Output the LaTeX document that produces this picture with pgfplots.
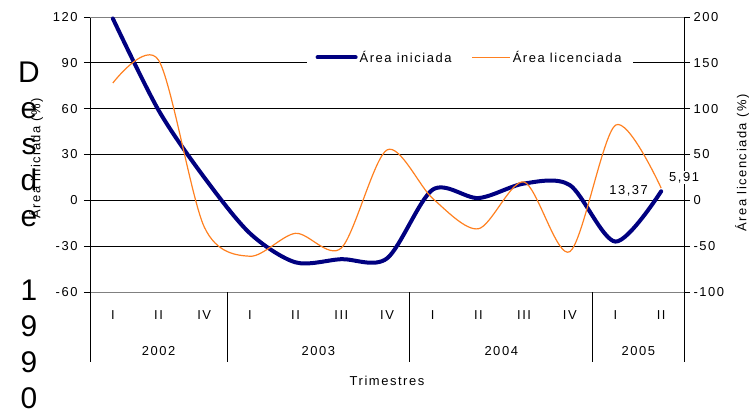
\documentclass[border=0pt]{standalone}
\usepackage{fontspec}
\setmainfont{Liberation Sans}
\newfontfamily\cf[LetterSpace=12]{Liberation Sans}
\usepackage{pgfplots}
\pgfplotsset{compat=1.18}
\definecolor{navyblue}{RGB}{0,0,128}
\definecolor{exorange}{RGB}{255,128,32}
\newcommand{\tf}{\cf\fontsize{13}{15}\selectfont}
\newcommand{\bigf}{\fontsize{30}{36}\selectfont}

\begin{document}
\begin{tikzpicture}[x=1bp,y=1bp]
\path[use as bounding box] (-90,-122) rectangle (663,292);
\foreach \ch/\b in {D/82,e/118,s/154,d/190,e/226,1/300,9/336,9/372,0/408}{
  \node[anchor=base, inner sep=0, font=\bigf] at (-61,292-\b) {\ch};
}
\begin{axis}[
  at={(0,0)}, anchor=south west,
  scale only axis, width=594bp, height=275bp,
  xmin=-0.5, xmax=12.5, ymin=-60, ymax=120,
  clip=false,
  axis x line*=bottom, axis y line*=left,
  x axis line style={-, draw=gray, line width=0.8bp},
  y axis line style={-, draw=black, line width=0.8bp},
  xtick={0,...,12},
  xticklabels={I,II,IV,I,II,III,IV,I,II,III,IV,I,II},
  xtick style={draw=none},
  xticklabel style={font=\tf, anchor=base, yshift=-21bp},
  ytick={-60,-30,...,120},
  yticklabels={-60,-30,0,30,60,90,120},
  yticklabel style={font=\tf, xshift=-3bp},
  tick align=outside, major tick length=6bp,
  ytick style={black, line width=0.8bp},
  ymajorgrids, major grid style={black, line width=0.8bp},
  legend style={at={(0.639,0.853)}, anchor=center, draw=none, fill=white, font=\tf,
    legend columns=2, /tikz/every even column/.append style={column sep=18bp},
    inner xsep=9bp, inner ysep=4bp},
  legend image code/.code={\draw[#1] (0bp,0bp) -- (38bp,0bp);},
]
\draw[gray, line width=0.8bp] (rel axis cs:0,1) -- (rel axis cs:1,1);
\pgfplotsinvokeforeach{-0.5,2.5,6.5,10.5,12.5}{
  \draw[black, line width=0.8bp] (axis cs:#1,-60) -- ++(0bp,-70bp);
}
\node[font=\tf, anchor=base, yshift=-63bp] at (axis cs:1,-60) {2002};
\node[font=\tf, anchor=base, yshift=-63bp] at (axis cs:4.5,-60) {2003};
\node[font=\tf, anchor=base, yshift=-63bp] at (axis cs:8.5,-60) {2004};
\node[font=\tf, anchor=base, yshift=-63bp] at (axis cs:11.5,-60) {2005};
\node[font=\tf, anchor=base, yshift=-93bp] at (axis cs:6,-60) {Trimestres};
\addplot[navyblue, line width=4bp, smooth, line cap=round] coordinates {
  (0,119) (1,59) (2,15) (3,-21.6) (4,-40.6) (5,-38.5) (6,-38)
  (7,7) (8,1.5) (9,11) (10,10) (11,-27) (12,5.91)};
\addlegendentry{Área iniciada}
\addlegendimage{exorange, line width=1.2bp}
\addlegendentry{Área licenciada}
\end{axis}
\begin{axis}[
  at={(0,0)}, anchor=south west,
  scale only axis, width=594bp, height=275bp,
  xmin=-0.5, xmax=12.5, ymin=-100, ymax=200,
  clip=false,
  axis x line=none, axis y line*=right,
  y axis line style={-, draw=black, line width=0.8bp},
  ytick={-100,-50,...,200},
  yticklabels={-100,-50,0,50,100,150,200},
  yticklabel style={font=\tf},
  tick align=outside, major tick length=6bp,
  ytick style={black, line width=0.8bp},
]
\node[font=\tf, anchor=east, fill=white, inner sep=1bp, xshift=-12bp, yshift=-3bp] at (axis cs:12,13.37) {13,37};
\addplot[exorange, line width=1.2bp, smooth] coordinates {
  (0,128) (1,153) (2,-29) (3,-61) (4,-36) (5,-52) (6,55)
  (7,2) (8,-31) (9,20) (10,-56) (11,82) (12,13.37)};
\node[font=\tf, fill=white, inner sep=1bp, xshift=23bp, yshift=14bp] at (axis cs:12,9.85) {5,91};
\end{axis}
\node[rotate=90, font=\tf] at (-54,134) {Área iniciada (\%)};
\node[rotate=90, font=\tf] at (652,129) {Área licenciada (\%)};
\end{tikzpicture}
\end{document}
